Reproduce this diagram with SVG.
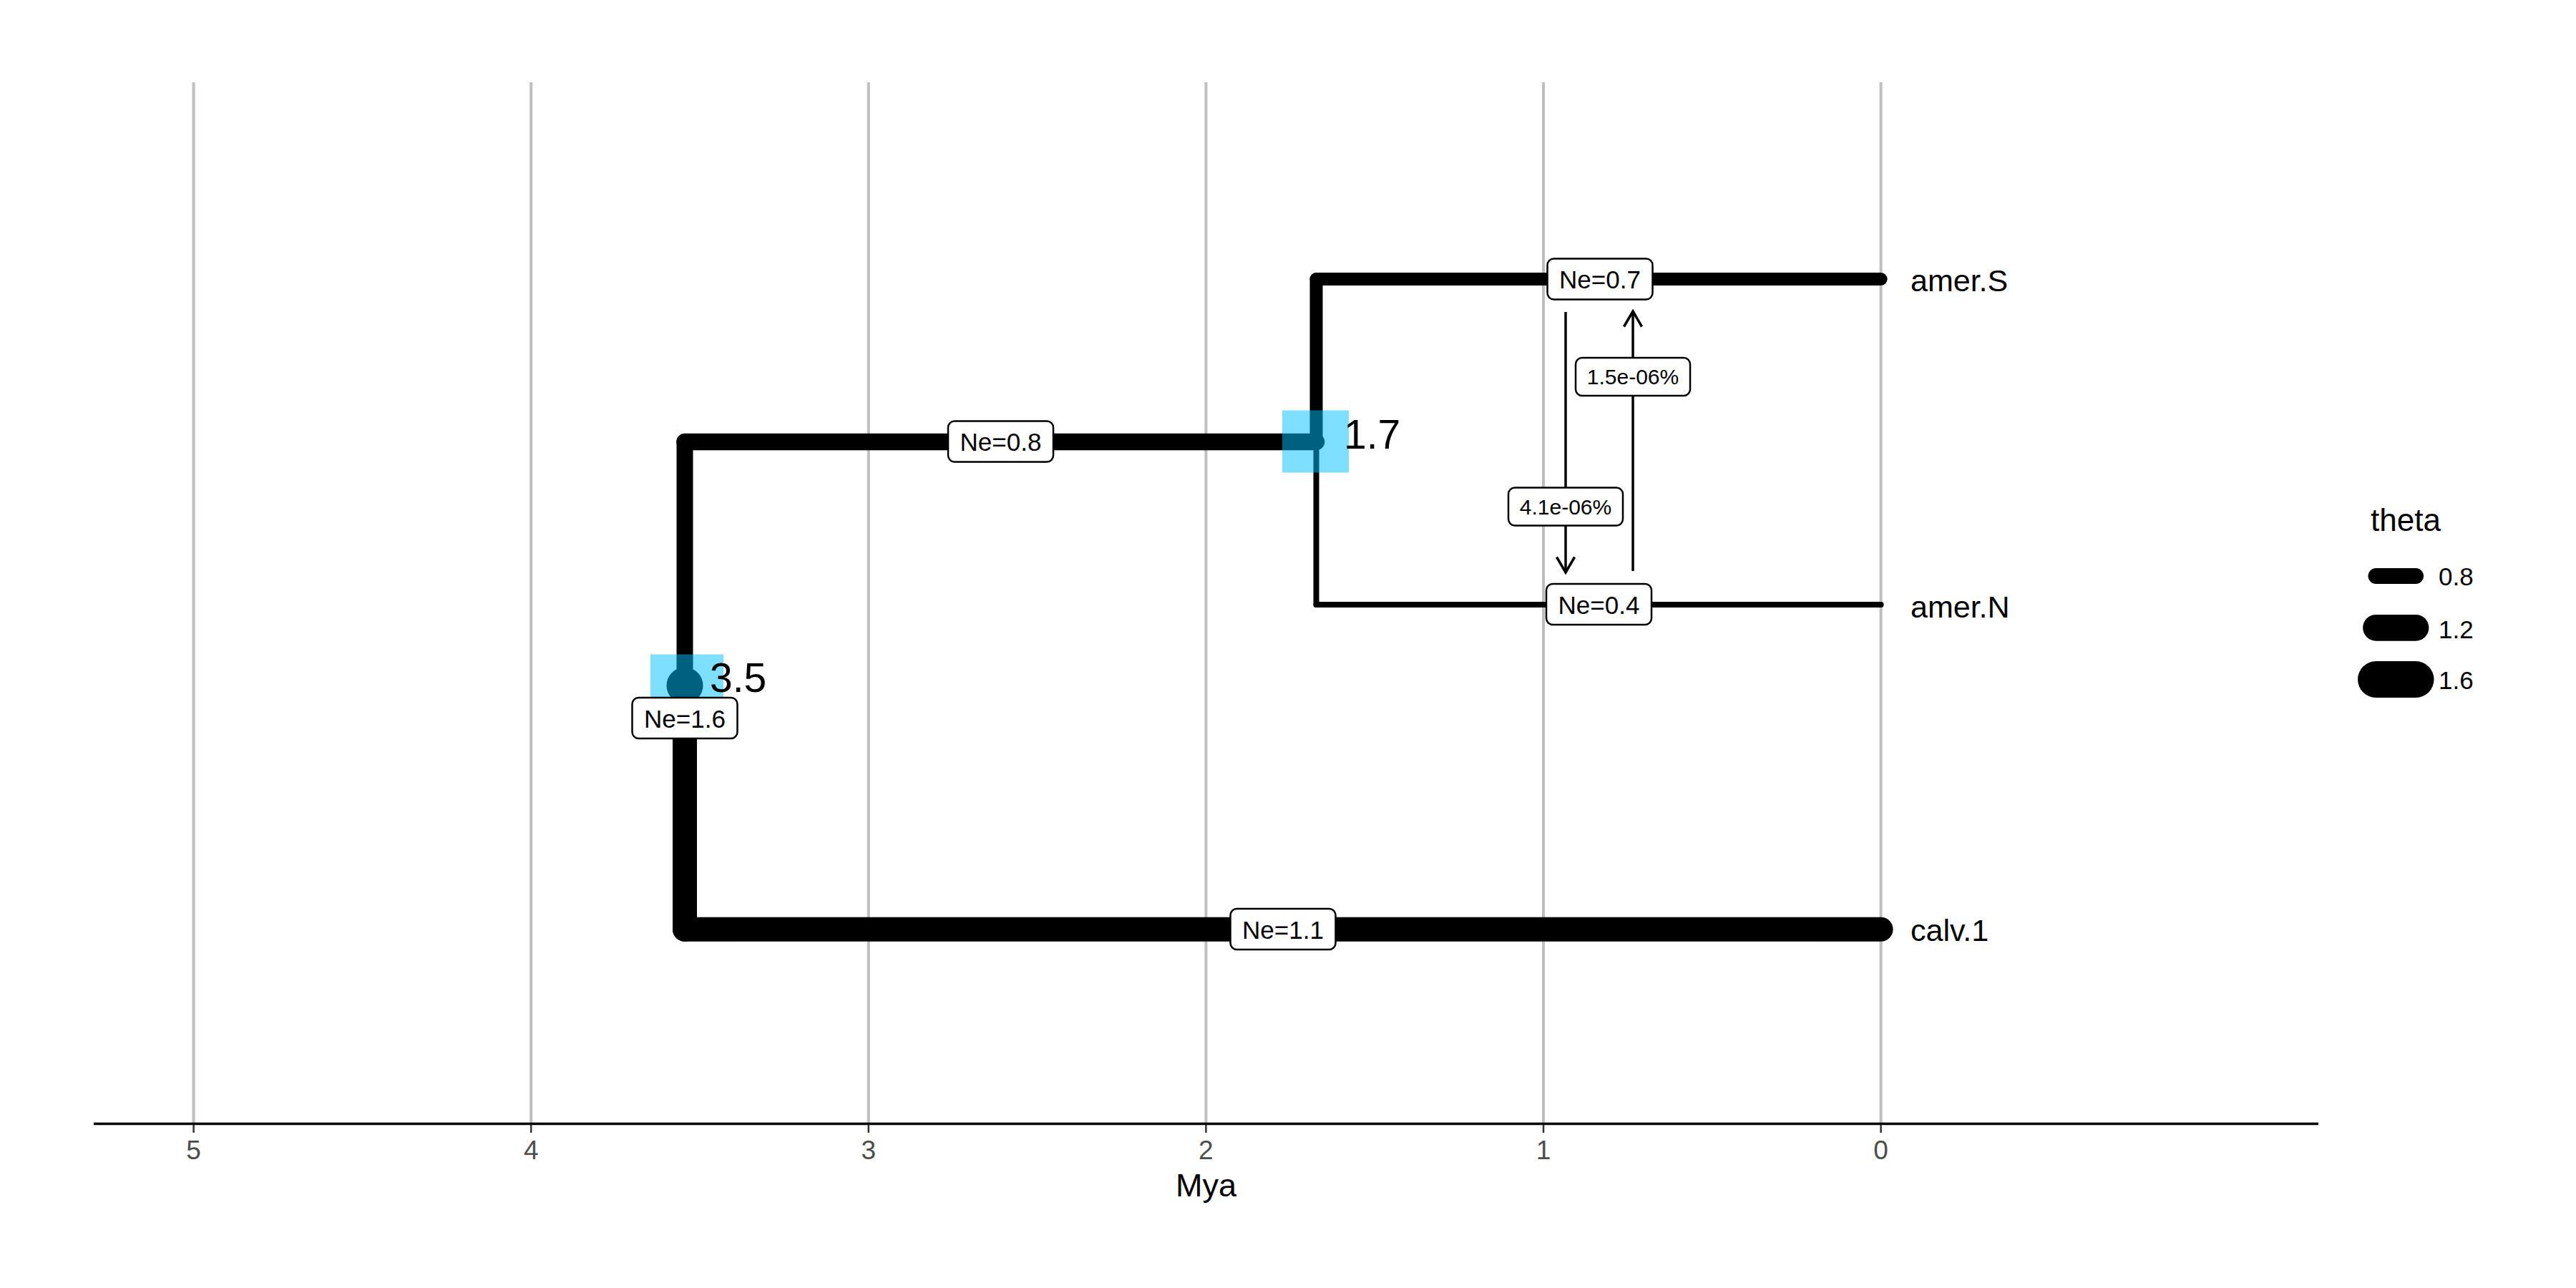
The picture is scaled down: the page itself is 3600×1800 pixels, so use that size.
<svg xmlns="http://www.w3.org/2000/svg" width="3600" height="1800" viewBox="0 0 3600 1800">
<defs>
<style>
text{font-family:"Liberation Sans",Arial,sans-serif;}
.grid{stroke:#BEBEBE;stroke-width:4;fill:none;}
.tick{stroke:#333333;stroke-width:2.5;}
.ticklab{font-size:37px;fill:#4D4D4D;text-anchor:middle;}
.br{stroke:#000;fill:none;stroke-linecap:round;stroke-linejoin:round;}
.ci{fill:#00BFFF;fill-opacity:0.5;}
.tip{font-size:43px;fill:#000;}
.nodelab{font-size:57px;fill:#000;}
.box{fill:#fff;stroke:#000;stroke-width:2.5;}
.ne{font-size:35px;fill:#000;text-anchor:middle;}
.mig{font-size:30px;fill:#000;text-anchor:middle;}
.arrow{stroke:#000;stroke-width:3.5;fill:none;marker-end:url(#head);}
.leg{font-size:35px;fill:#000;}
</style>
<marker id="head" markerUnits="userSpaceOnUse" markerWidth="40" markerHeight="40" viewBox="-30 -20 40 40" refX="0" refY="0" orient="auto" overflow="visible">
<path d="M-21.5,-12.5 L0,0 L-21.5,12.5" fill="none" stroke="#000" stroke-width="3.5" stroke-linejoin="miter"/>
</marker>
</defs>
<rect width="3600" height="1800" fill="#fff"/>
<g id="grid">
<line class="grid" x1="270.6" y1="115" x2="270.6" y2="1570"/>
<line class="grid" x1="742.2" y1="115" x2="742.2" y2="1570"/>
<line class="grid" x1="1213.8" y1="115" x2="1213.8" y2="1570"/>
<line class="grid" x1="1685.4" y1="115" x2="1685.4" y2="1570"/>
<line class="grid" x1="2157" y1="115" x2="2157" y2="1570"/>
<line class="grid" x1="2628.6" y1="115" x2="2628.6" y2="1570"/>
</g>
<g id="axis">
<line x1="131" y1="1570.5" x2="3240" y2="1570.5" stroke="#000" stroke-width="3.3"/>
<line class="tick" x1="270.6" y1="1572" x2="270.6" y2="1583"/>
<line class="tick" x1="742.2" y1="1572" x2="742.2" y2="1583"/>
<line class="tick" x1="1213.8" y1="1572" x2="1213.8" y2="1583"/>
<line class="tick" x1="1685.4" y1="1572" x2="1685.4" y2="1583"/>
<line class="tick" x1="2157" y1="1572" x2="2157" y2="1583"/>
<line class="tick" x1="2628.6" y1="1572" x2="2628.6" y2="1583"/>
<text class="ticklab" x="270.6" y="1620">5</text>
<text class="ticklab" x="742.2" y="1620">4</text>
<text class="ticklab" x="1213.8" y="1620">3</text>
<text class="ticklab" x="1685.4" y="1620">2</text>
<text class="ticklab" x="2157" y="1620">1</text>
<text class="ticklab" x="2628.6" y="1620">0</text>
<text x="1685.5" y="1672" font-size="45" text-anchor="middle" fill="#000">Mya</text>
</g>
<g id="connectors">
<path class="br" d="M957,958 L957,617.5" stroke-width="23"/>
<path class="br" d="M957,617.5 L1839.5,617.5" stroke-width="23.5"/>
<path class="br" d="M957,958 L957,1298.7" stroke-width="34"/>
<path class="br" d="M957,1298.7 L2628.6,1298.7" stroke-width="34"/>
<path class="br" d="M1839.5,617.5 L1839.5,390" stroke-width="18"/>
<path class="br" d="M1839.5,390 L2628.6,390" stroke-width="18"/>
<path class="br" d="M1839.5,617.5 L1839.5,845" stroke-width="8"/>
<path class="br" d="M1839.5,845 L2628.6,845" stroke-width="8"/>
<path class="br" d="M957,958 L957,958" stroke-width="51"/>
<line class="arrow" x1="2188" y1="436" x2="2188" y2="800"/>
<line class="arrow" x1="2282" y1="798" x2="2282" y2="435"/>
</g>
<g id="node-root">
<rect class="ci" x="909" y="914.5" width="102" height="87"/>
<text class="nodelab" x="992" y="967">3.5</text>
</g>
<g id="node-1_7">
<rect class="ci" x="1792" y="573.5" width="93" height="87"/>
<text class="nodelab" x="1878" y="626.7">1.7</text>
</g>
<g id="tip-amerS"><text class="tip" x="2670" y="406.5">amer.S</text></g>
<g id="tip-amerN"><text class="tip" x="2670" y="862.5">amer.N</text></g>
<g id="tip-calv1"><text class="tip" x="2670" y="1315">calv.1</text></g>
<g id="label-ne07">
<rect class="box" x="2162.5" y="361.5" width="147" height="57" rx="9"/>
<text class="ne" x="2236" y="403">Ne=0.7</text>
</g>
<g id="label-ne04">
<rect class="box" x="2161" y="816" width="147" height="57" rx="9"/>
<text class="ne" x="2234.5" y="857.5">Ne=0.4</text>
</g>
<g id="label-ne08">
<rect class="box" x="1325" y="588.5" width="147" height="57" rx="9"/>
<text class="ne" x="1398.5" y="630">Ne=0.8</text>
</g>
<g id="label-ne16">
<rect class="box" x="883.5" y="975" width="147" height="57" rx="9"/>
<text class="ne" x="957" y="1016.5">Ne=1.6</text>
</g>
<g id="label-ne11">
<rect class="box" x="1719.5" y="1270" width="147" height="57" rx="9"/>
<text class="ne" x="1793" y="1311.5">Ne=1.1</text>
</g>
<g id="label-mig-down">
<rect class="box" x="2108" y="681.5" width="160" height="53" rx="9"/>
<text class="mig" x="2188" y="718.7">4.1e-06%</text>
</g>
<g id="label-mig-up">
<rect class="box" x="2202" y="500" width="160" height="53" rx="9"/>
<text class="mig" x="2282" y="537.2">1.5e-06%</text>
</g>
<g id="legend">
<text x="3313" y="742" font-size="44" fill="#000">theta</text>
<line x1="3320.5" y1="805" x2="3376" y2="805" stroke="#000" stroke-width="22" stroke-linecap="round"/>
<line x1="3320.5" y1="877.3" x2="3376" y2="877.3" stroke="#000" stroke-width="36.7" stroke-linecap="round"/>
<line x1="3320.5" y1="949.5" x2="3376" y2="949.5" stroke="#000" stroke-width="51" stroke-linecap="round"/>
<text class="leg" x="3408" y="818.3">0.8</text>
<text class="leg" x="3408" y="891.7">1.2</text>
<text class="leg" x="3408" y="963.3">1.6</text>
</g>
</svg>
